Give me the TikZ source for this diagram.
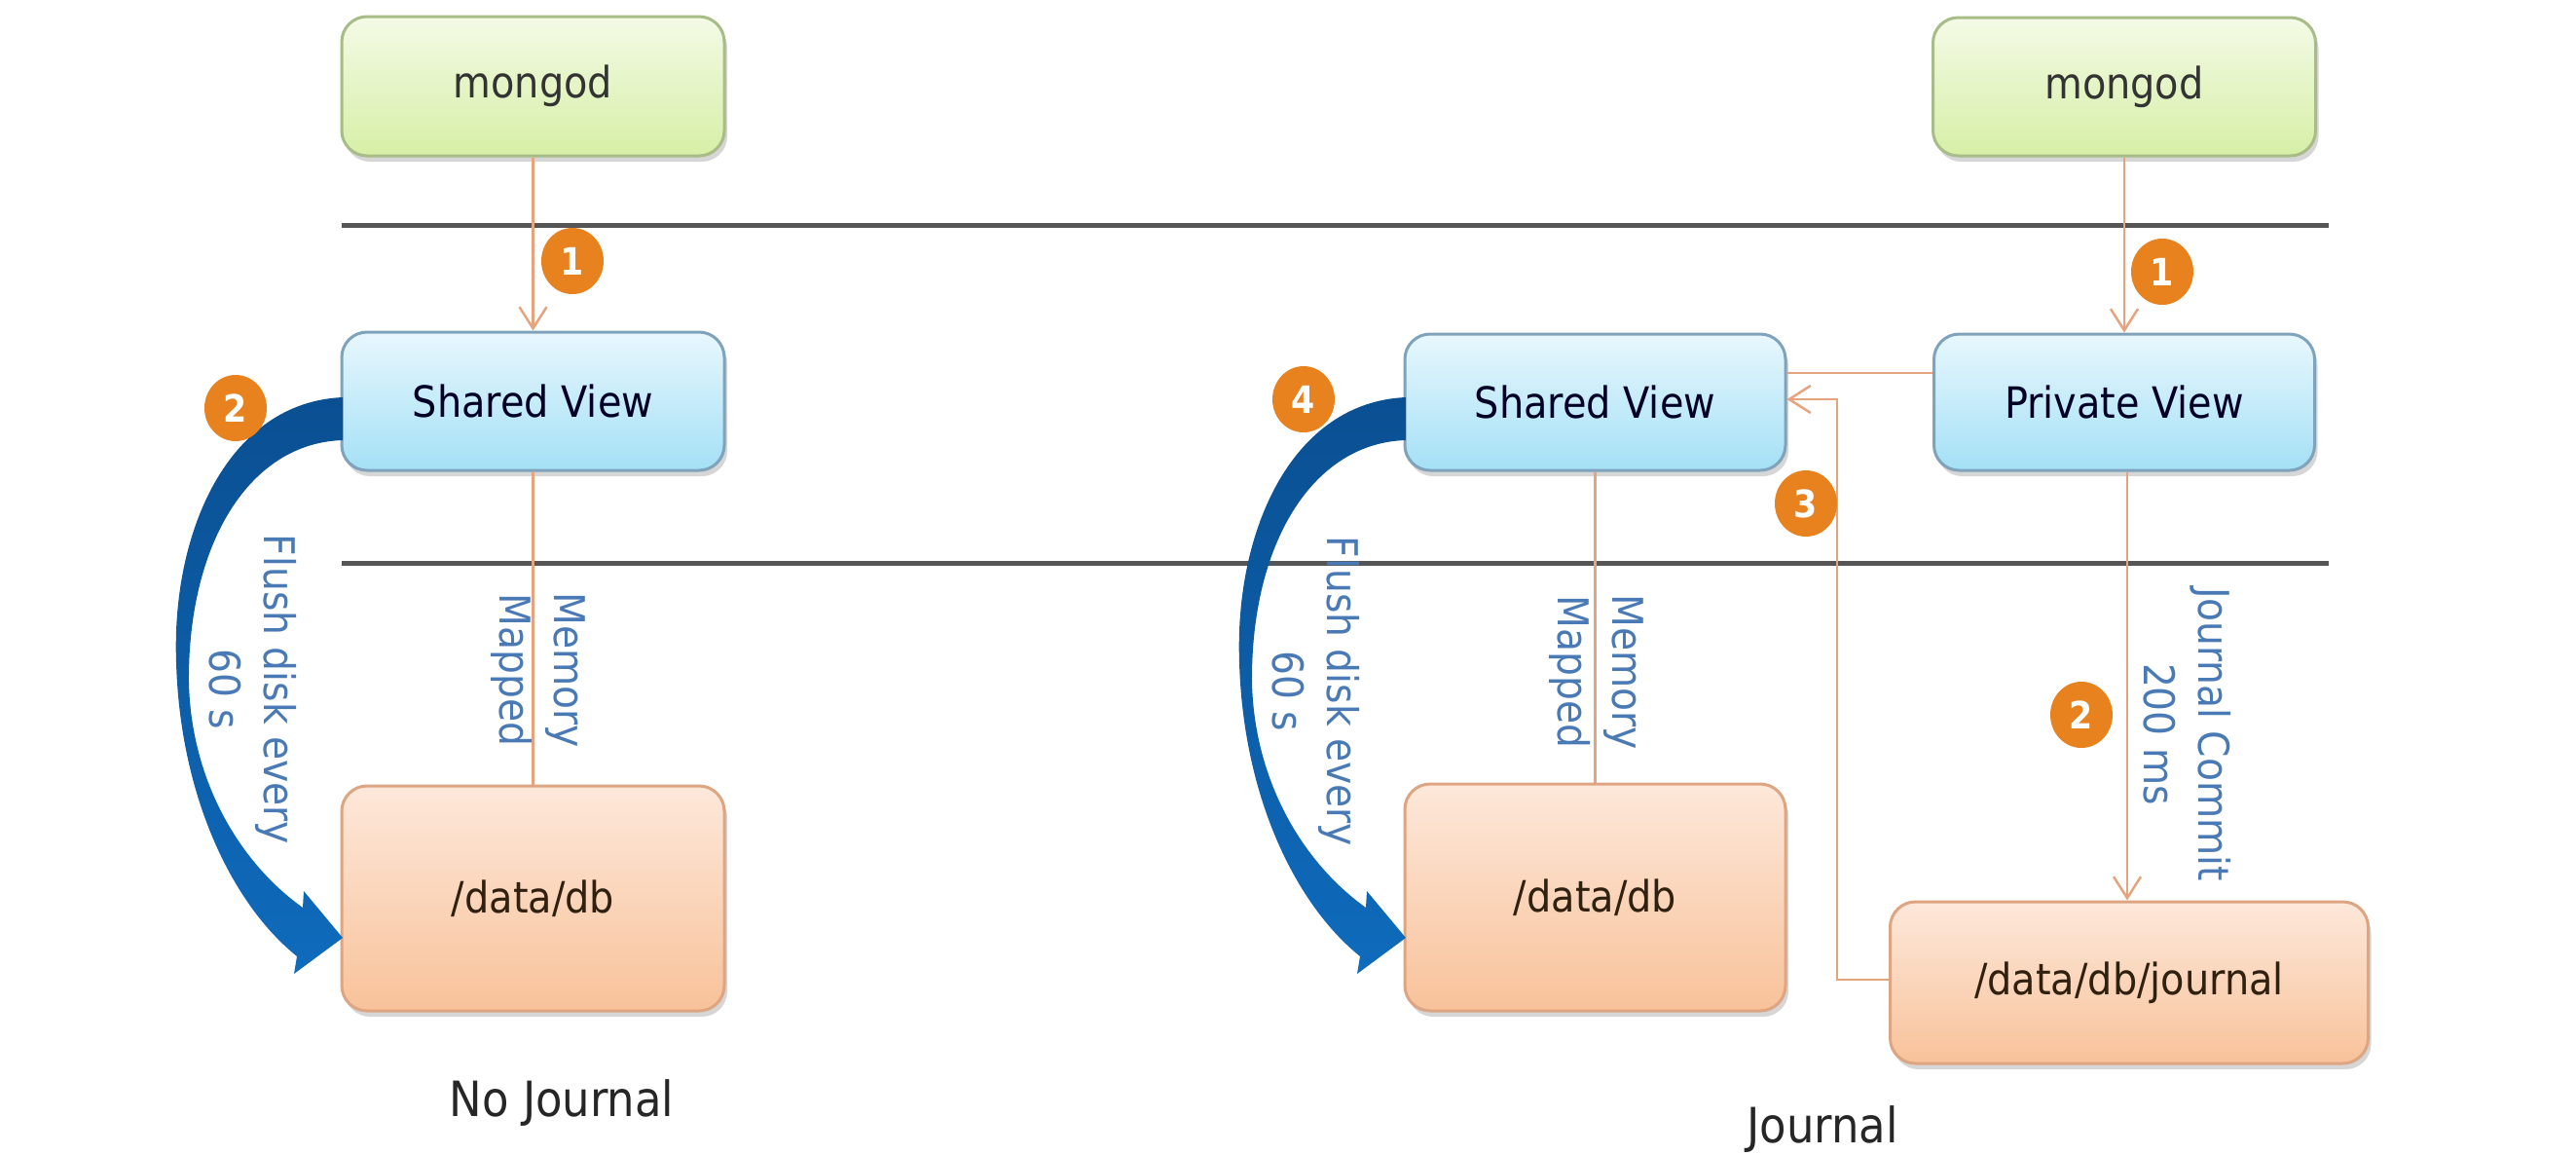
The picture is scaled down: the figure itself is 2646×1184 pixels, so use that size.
\documentclass[tikz,border=0pt]{standalone}
\usepackage{fontspec}
\setmainfont{DejaVu Sans Condensed}
\usetikzlibrary{arrows.meta,shapes.geometric,shadows}
\definecolor{connc}{HTML}{E6A47E}
\definecolor{sepc}{HTML}{555555}
\definecolor{lblc}{HTML}{4A7AB5}
\definecolor{badgec}{HTML}{E8821E}
\definecolor{gtop}{HTML}{F4FAE6}
\definecolor{gbot}{HTML}{D6EFA6}
\definecolor{gbrd}{HTML}{A8BC88}
\definecolor{btop}{HTML}{E8F7FD}
\definecolor{bbot}{HTML}{A4E0F6}
\definecolor{bbrd}{HTML}{7FA3BA}
\definecolor{otop}{HTML}{FDE8DA}
\definecolor{obot}{HTML}{F8C29A}
\definecolor{obrd}{HTML}{DDA582}
\definecolor{arrtop}{HTML}{0A4F92}
\definecolor{arrbot}{HTML}{0F6BBC}
\begin{document}
\begin{tikzpicture}[x=0.1mm,y=-0.1mm,
  boxtext/.style={font=\fontsize{12.6}{15}\selectfont},
  box/.style={boxtext, draw, rounded corners=2.6mm, line width=0.3mm, inner sep=0pt,
    drop shadow={shadow xshift=0.3mm, shadow yshift=-0.6mm, fill=black, opacity=0.16}},
  greenbox/.style={box, draw=gbrd, top color=gtop, bottom color=gbot, text=black!80},
  bluebox/.style={box, draw=bbrd, top color=btop, bottom color=bbot, text=black!75!blue!60!black},
  orangebox/.style={box, draw=obrd, top color=otop, bottom color=obot, text=black!75!brown},
  sepline/.style={draw=sepc, line width=0.5mm},
  conn/.style={draw=connc, line width=0.25mm},
  connarrow/.style={conn, -{Straight Barb[length=2.2mm,width=2.8mm,line width=0.25mm]}},
  lbl/.style={text=lblc, align=center, font=\fontsize{12.4}{16}\selectfont, inner sep=0pt},
  caption/.style={text=black!85, font=\fontsize{14.2}{17}\selectfont, inner sep=0pt},
  badge/.style={ellipse, fill=badgec, text=white, minimum width=6.4mm, minimum height=6.8mm,
    inner sep=0pt, font=\fontsize{11}{12}\selectfont\bfseries},
  flusharrow/.style={top color=arrtop, bottom color=arrbot, draw=none}
]
\useasboundingbox (0,0) rectangle (2646,1184);
\fill[white] (0,0) rectangle (2646,1184);

% separator lines
\coordinate (s1a) at (351,231);
\coordinate (s1b) at (2392,231);
\coordinate (s2a) at (351,578);
\coordinate (s2b) at (2392,578);
\draw[sepline] (s1a) -- (s1b);
\draw[sepline] (s2a) -- (s2b);

% boxes
\node[greenbox, minimum width=39.3mm, minimum height=14.3mm] (mgL) at (547.5,88.5) {mongod};
\node[bluebox, minimum width=39.3mm, minimum height=14.2mm] (svL) at (547.5,412) {Shared View};
\node[orangebox, minimum width=39.3mm, minimum height=23.1mm] (dbL) at (547.5,922.5) {/data/db};

\node[greenbox, minimum width=39.3mm, minimum height=14.2mm] (mgR) at (2182,89) {mongod};
\node[bluebox, minimum width=39.1mm, minimum height=14.0mm] (svR) at (1638.5,413) {Shared View};
\node[bluebox, minimum width=39.1mm, minimum height=14.0mm] (pvR) at (2182,413) {Private View};
\node[orangebox, minimum width=39.1mm, minimum height=23.3mm] (dbR) at (1638.5,921.5) {/data/db};
\node[orangebox, minimum width=49.1mm, minimum height=16.6mm] (jr) at (2187,1009) {/data/db/journal};

% connectors
\draw[connarrow] (mgL.south) -- (svL.north);
\draw[conn] (svL.south) -- (dbL.north);
\draw[connarrow] (mgR.south) -- (pvR.north);
\draw[conn] (svR.south) -- (dbR.north);
\draw[conn] ([yshift=3mm]pvR.west) -- ([yshift=3mm]svR.east);
\draw[connarrow] ([xshift=0.3mm]pvR.south) -- ([xshift=0.3mm]pvR.south |- jr.north);
\draw[connarrow] ([yshift=0.3mm]jr.west) -- ++(-53,0) |- ([yshift=0.3mm]svR.east);

% flush arrows
\foreach \dx in {0,1092}{
  \begin{scope}[shift={(\dx,0)}]
    \shade[flusharrow] (352,408) .. controls (235,413) and (176,545) .. (181,680)
      .. controls (185,820) and (240,930) .. (305,982)
      -- (302,1000) -- (352,963) -- (312,915) -- (311,932)
      .. controls (245,885) and (196,800) .. (194,700)
      .. controls (193,560) and (255,455) .. (352,452) -- cycle;
  \end{scope}
}

% labels
\node[lbl, rotate=-90] (flL) at (260,708) {Flush disk every\\60 s};
\node[lbl, rotate=-90] (flR) at (1352,710) {Flush disk every\\60 s};
\node[lbl, rotate=-90] (mmL) at (553,688) {Memory\\Mapped};
\node[lbl, rotate=-90] (mmR) at (1640,690) {Memory\\Mapped};
\node[lbl, rotate=-90] (jc) at (2247,754) {Journal Commit\\200 ms};

\node[caption] (capL) at (577,1133) {No Journal};
\node[caption] (capR) at (1872,1160) {Journal};

% badges
\node[badge] (b1L) at (588,268) {1};
\node[badge] (b2L) at (242,419) {2};
\node[badge] (b1R) at (2221,279) {1};
\node[badge] (b4R) at (1339,410) {4};
\node[badge] (b3R) at (1855,517) {3};
\node[badge] (b2R) at (2138,734) {2};
\end{tikzpicture}
\end{document}
